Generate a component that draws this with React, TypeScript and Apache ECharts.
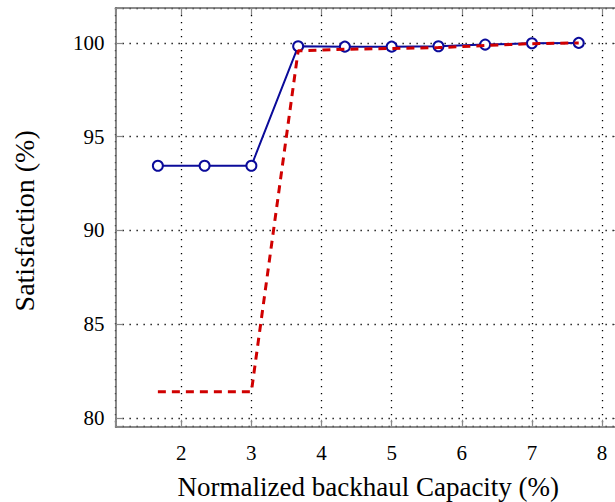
import React, { useEffect, useRef } from "react";
import * as echarts from "echarts";

const xValues = [1.667, 2.333, 3, 3.667, 4.333, 5, 5.667, 6.333, 7, 7.667];
const blueSeries = [93.45, 93.45, 93.45, 99.82, 99.8, 99.8, 99.82, 99.91, 99.98, 100];
const redSeries = [81.4, 81.4, 81.4, 99.58, 99.66, 99.7, 99.75, 99.86, 99.96, 100];
const xTitle = "Normalized backhaul Capacity (%)";
const yTitle = "Satisfaction (%)";
const xRange = [1.063, 8.271];
const yRange = [79.54, 101.86];

const FONT = "Liberation Serif";

export default function App() {
  const ref = useRef<HTMLDivElement>(null);
  useEffect(() => {
    document.body.style.margin = "0";
    if (!ref.current) return;
    const chart = echarts.init(ref.current, undefined, { renderer: "svg" });
    const boxLine = { show: true, lineStyle: { color: "#666", width: 1.5 } };
    const tick = { show: true, inside: true, length: 7, lineStyle: { color: "#888", width: 1.2 } };
    const grid = { show: true, lineStyle: { color: "#000", width: 1.3, type: [1.3, 5.7] } };
    const isInt = (v: number, step: number) => Math.abs(v / step - Math.round(v / step)) < 1e-6;
    chart.setOption({
      animation: false,
      textStyle: { fontFamily: FONT },
      grid: { left: 115.5, top: 8, width: 505.6, height: 418.7, outerBoundsMode: "none", containLabel: false },
      xAxis: [
        {
          type: "value",
          min: xRange[0],
          max: xRange[1],
          minInterval: 1,
          maxInterval: 1,
          position: "bottom",
          axisLine: boxLine,
          axisTick: tick,
          splitLine: grid,
          axisLabel: {
            margin: 16,
            fontFamily: FONT,
            fontSize: 21,
            lineHeight: 21,
            color: "#000",
            formatter: (v: number) => (isInt(v, 1) ? String(Math.round(v)) : ""),
          },
          name: xTitle,
          nameLocation: "middle",
          nameGap: 47,
          nameTextStyle: { fontFamily: FONT, fontSize: 27, lineHeight: 27, color: "#000" },
        },
        {
          type: "value",
          min: xRange[0],
          max: xRange[1],
          minInterval: 1,
          maxInterval: 1,
          position: "top",
          axisLine: boxLine,
          axisTick: tick,
          splitLine: { show: false },
          axisLabel: { show: false },
        },
      ],
      yAxis: [
        {
          type: "value",
          min: yRange[0],
          max: yRange[1],
          minInterval: 5,
          maxInterval: 5,
          position: "left",
          axisLine: boxLine,
          axisTick: tick,
          splitLine: grid,
          axisLabel: {
            margin: 11,
            fontFamily: FONT,
            fontSize: 21,
            lineHeight: 21,
            color: "#000",
            formatter: (v: number) => (isInt(v, 5) ? String(Math.round(v)) : ""),
          },
          name: yTitle,
          nameLocation: "middle",
          nameGap: 77,
          nameTextStyle: { fontFamily: FONT, fontSize: 28, lineHeight: 28, color: "#000", padding: [0, 7, 0, 0] },
        },
        {
          type: "value",
          min: yRange[0],
          max: yRange[1],
          minInterval: 5,
          maxInterval: 5,
          position: "right",
          axisLine: boxLine,
          axisTick: tick,
          splitLine: { show: false },
          axisLabel: { show: false },
        },
      ],
      series: [
        {
          type: "line",
          xAxisIndex: 0,
          yAxisIndex: 0,
          data: xValues.map((x, i) => [x, blueSeries[i]]),
          symbol: "emptyCircle",
          symbolSize: 10,
          lineStyle: { color: "#0b0b9a", width: 2 },
          itemStyle: { color: "#0b0b9a", borderColor: "#0b0b9a", borderWidth: 2 },
          z: 3,
        },
        {
          type: "line",
          xAxisIndex: 0,
          yAxisIndex: 0,
          data: xValues.map((x, i) => [x, redSeries[i]]),
          symbol: "none",
          lineStyle: { color: "#d00000", width: 3, type: [8, 6] },
          z: 4,
        },
      ],
    });
    return () => chart.dispose();
  }, []);
  return <div ref={ref} style={{ width: 615, height: 502 }} />;
}
